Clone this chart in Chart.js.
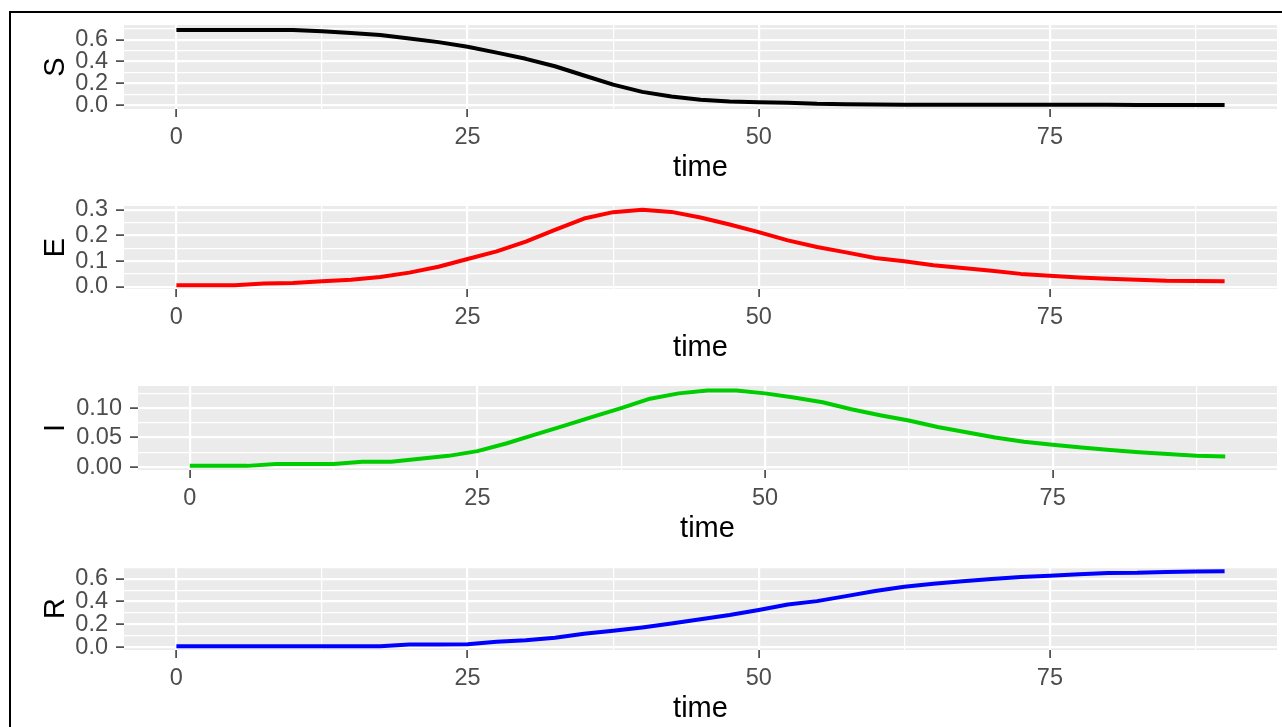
<!DOCTYPE html>
<html>
<head>
<meta charset="utf-8">
<title>SEIR compartments over time</title>
<script src="https://cdn.jsdelivr.net/npm/chart.js@4.4.1/dist/chart.umd.min.js"></script>
<style>
  body { margin: 0; background: #ffffff; overflow: hidden; }
  #frame {
    position: absolute; left: 9px; top: 11px; width: 1300px; height: 730px;
    border-top: 2px solid #000000; border-left: 2px solid #000000;
  }
  canvas { position: absolute; left: 0; }
</style>
</head>
<body>
<div id="frame"></div>
<canvas id="chartS"></canvas>
<canvas id="chartE"></canvas>
<canvas id="chartI"></canvas>
<canvas id="chartR"></canvas>
<script>
// model output, sampled every 2.5 time units
const time = [0, 2.5, 5, 7.5, 10, 12.5, 15, 17.5, 20, 22.5, 25, 27.5, 30, 32.5, 35, 37.5,
  40, 42.5, 45, 47.5, 50, 52.5, 55, 57.5, 60, 62.5, 65, 67.5, 70, 72.5, 75, 77.5,
  80, 82.5, 85, 87.5, 90];

const S = [0.690, 0.690, 0.690, 0.690, 0.689, 0.677, 0.662, 0.643, 0.612, 0.578, 0.535, 0.482,
  0.425, 0.357, 0.272, 0.188, 0.122, 0.080, 0.050, 0.034, 0.027, 0.022, 0.012, 0.008,
  0.006, 0.005, 0.004, 0.004, 0.003, 0.003, 0.003, 0.003, 0.003, 0.002, 0.002, 0.002, 0.002];

const E = [0.006, 0.006, 0.006, 0.012, 0.014, 0.021, 0.027, 0.038, 0.055, 0.078, 0.108, 0.138,
  0.176, 0.222, 0.266, 0.291, 0.300, 0.292, 0.270, 0.243, 0.213, 0.181, 0.155, 0.134,
  0.112, 0.099, 0.084, 0.073, 0.062, 0.050, 0.043, 0.036, 0.031, 0.027, 0.023, 0.022, 0.021];

const I = [0.002, 0.002, 0.002, 0.005, 0.005, 0.005, 0.009, 0.009, 0.014, 0.019, 0.027, 0.040,
  0.055, 0.070, 0.085, 0.100, 0.116, 0.125, 0.130, 0.130, 0.125, 0.118, 0.110, 0.098,
  0.088, 0.079, 0.068, 0.059, 0.050, 0.043, 0.038, 0.033, 0.029, 0.025, 0.022, 0.019, 0.018];

const R = [0.009, 0.009, 0.009, 0.009, 0.009, 0.009, 0.009, 0.009, 0.024, 0.024, 0.026, 0.048,
  0.062, 0.084, 0.118, 0.144, 0.174, 0.209, 0.246, 0.282, 0.326, 0.375, 0.404, 0.448,
  0.492, 0.530, 0.556, 0.578, 0.597, 0.615, 0.626, 0.640, 0.650, 0.652, 0.660, 0.664, 0.666];

const timeTicks = [0, 25, 50, 75];
const timeMinor = [12.5, 37.5, 62.5, 87.5];

const ticksS = [0, 0.2, 0.4, 0.6];
const minorS = [0.1, 0.3, 0.5, 0.7];
const ticksE = [0, 0.1, 0.2, 0.3];
const minorE = [0.05, 0.15, 0.25];
const ticksI = [0, 0.05, 0.1];
const minorI = [0.025, 0.075, 0.125];
const ticksR = [0, 0.2, 0.4, 0.6];
const minorR = [0.1, 0.3, 0.5, 0.7];

const FONT = "'Liberation Sans', Arial, sans-serif";
const PAD_TOP = 15;
const X_AXIS_H = 78;

// one ggplot-like panel per compartment
const panels = [
  { id: "chartS", name: "S", values: S, color: "#000000", ticks: ticksS, minor: minorS, digits: 1,
    min: -0.035, max: 0.735, top: 25, height: 84, left: 124 },
  { id: "chartE", name: "E", values: E, color: "#FF0000", ticks: ticksE, minor: minorE, digits: 1,
    min: -0.009, max: 0.315, top: 206, height: 83, left: 124 },
  { id: "chartI", name: "I", values: I, color: "#00CD00", ticks: ticksI, minor: minorI, digits: 2,
    min: -0.005, max: 0.1375, top: 386, height: 84, left: 138 },
  { id: "chartR", name: "R", values: R, color: "#0000FF", ticks: ticksR, minor: minorR, digits: 1,
    min: -0.024, max: 0.703, top: 567, height: 83, left: 124 },
];

// grey panel background behind the grid
const panelBg = {
  id: "panelBg",
  beforeDraw(chart) {
    const { ctx, chartArea: a } = chart;
    ctx.save();
    ctx.fillStyle = "#EBEBEB";
    ctx.fillRect(a.left, a.top, a.right - a.left, a.bottom - a.top);
    ctx.restore();
  },
};

function isMajor(list, c) {
  return c.tick && list.includes(c.tick.value);
}

panels.forEach((p) => {
  const canvas = document.getElementById(p.id);
  canvas.width = 1282;
  canvas.height = PAD_TOP + p.height + X_AXIS_H;
  canvas.style.top = (p.top - PAD_TOP) + "px";

  const points = time.map((t, i) => ({ x: t, y: p.values[i] }));

  new Chart(canvas.getContext("2d"), {
    type: "line",
    data: {
      datasets: [{
        data: points,
        borderColor: p.color,
        borderWidth: 4,
        borderJoinStyle: "round",
        pointRadius: 0,
        tension: 0,
        fill: false,
      }],
    },
    options: {
      responsive: false,
      animation: false,
      events: [],
      layout: { padding: { top: PAD_TOP, right: 5, left: 0, bottom: 0 } },
      plugins: { legend: { display: false }, tooltip: { enabled: false } },
      scales: {
        x: {
          type: "linear",
          min: -4.5,
          max: 94.5,
          afterBuildTicks: (s) => {
            s.ticks = [...timeTicks, ...timeMinor].sort((a, b) => a - b).map((v) => ({ value: v }));
          },
          afterFit: (s) => {
            s.height = X_AXIS_H;
            s.paddingLeft = 0;
            s.paddingRight = 0;
          },
          ticks: {
            autoSkip: false,
            maxRotation: 0,
            padding: 6,
            color: "#4D4D4D",
            font: { family: FONT, size: 23.5 },
            callback: (v) => (timeTicks.includes(v) ? String(v) : ""),
          },
          grid: {
            color: "#FFFFFF",
            lineWidth: (c) => (isMajor(timeTicks, c) ? 2.2 : 1.2),
            tickLength: 8,
            tickWidth: 1.5,
            tickColor: (c) => (isMajor(timeTicks, c) ? "#333333" : "rgba(0,0,0,0)"),
          },
          border: { display: false },
          title: {
            display: true,
            text: "time",
            color: "#000000",
            font: { family: FONT, size: 29 },
            padding: { top: 0, bottom: 1.6 },
          },
        },
        y: {
          type: "linear",
          min: p.min,
          max: p.max,
          afterBuildTicks: (s) => {
            s.ticks = [...p.ticks, ...p.minor].sort((a, b) => a - b).map((v) => ({ value: v }));
          },
          afterFit: (s) => {
            s.width = p.left;
            s.paddingTop = 0;
            s.paddingBottom = 0;
          },
          ticks: {
            autoSkip: false,
            padding: 8,
            color: "#4D4D4D",
            font: { family: FONT, size: 23.5 },
            callback: (v) => (p.ticks.includes(v) ? v.toFixed(p.digits) : ""),
          },
          grid: {
            color: "#FFFFFF",
            lineWidth: (c) => (isMajor(p.ticks, c) ? 2.2 : 1.2),
            tickLength: 8,
            tickWidth: 1.5,
            tickColor: (c) => (isMajor(p.ticks, c) ? "#333333" : "rgba(0,0,0,0)"),
          },
          border: { display: false },
          title: {
            display: true,
            text: p.name,
            color: "#000000",
            font: { family: FONT, size: 29 },
            padding: { top: 38.6, bottom: 0 },
          },
        },
      },
    },
    plugins: [panelBg],
  });
});
</script>
</body>
</html>
